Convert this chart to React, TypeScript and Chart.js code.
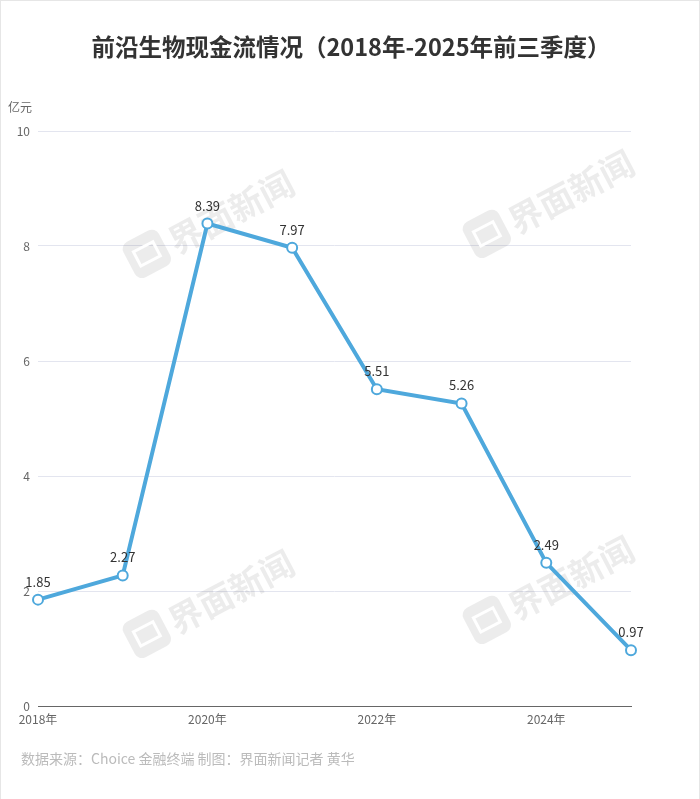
import React, { useEffect, useRef } from "react";
import { Chart, registerables } from "chart.js";

Chart.register(...registerables);

const TITLE = "前沿生物现金流情况（2018年-2025年前三季度）";
const UNIT = "亿元";
const SOURCE = "数据来源：Choice 金融终端 制图：界面新闻记者 黄华";
const WATERMARK = "界面新闻";

const categories = ["2018年", "2019年", "2020年", "2021年", "2022年", "2023年", "2024年", "2025年"];
const cashFlow = [1.85, 2.27, 8.39, 7.97, 5.51, 5.26, 2.49, 0.97];
const yTicks = [0, 2, 4, 6, 8, 10];

const FONT = "'Noto Sans CJK SC', 'Noto Sans', sans-serif";
const LINE_COLOR = "#4ea8dc";

const decorPlugin = {
  id: "decor",
  beforeDatasetsDraw(chart: any) {
    const ctx = chart.ctx as CanvasRenderingContext2D;
    const spots = [
      [200, 226],
      [540, 206],
      [200, 606],
      [540, 592],
    ];
    ctx.save();
    for (const [cx, cy] of spots) {
      ctx.save();
      ctx.translate(cx, cy);
      ctx.rotate(-Math.PI / 6.5);
      ctx.globalAlpha = 0.11;
      ctx.fillStyle = "#555";
      const bx = -80, by = -20, bw = 40, bh = 40, r = 8;
      ctx.beginPath();
      ctx.moveTo(bx + r, by);
      ctx.arcTo(bx + bw, by, bx + bw, by + bh, r);
      ctx.arcTo(bx + bw, by + bh, bx, by + bh, r);
      ctx.arcTo(bx, by + bh, bx, by, r);
      ctx.arcTo(bx, by, bx + bw, by, r);
      ctx.closePath();
      ctx.fill();
      ctx.globalAlpha = 1;
      ctx.strokeStyle = "rgba(255,255,255,1)";
      ctx.lineWidth = 3;
      ctx.strokeRect(bx + 9, by + 12, 22, 16);
      ctx.globalAlpha = 0.11;
      ctx.font = `bold 34px ${FONT}`;
      ctx.textAlign = "left";
      ctx.textBaseline = "middle";
      ctx.fillText(WATERMARK, -34, 2);
      ctx.restore();
    }
    ctx.restore();
  },
  afterDraw(chart: any) {
    const ctx = chart.ctx as CanvasRenderingContext2D;
    ctx.save();
    ctx.fillStyle = "#333";
    ctx.font = `bold 23.5px ${FONT}`;
    ctx.textAlign = "center";
    ctx.textBaseline = "middle";
    ctx.fillText(TITLE, 351, 47);

    ctx.fillStyle = "#666";
    ctx.font = `12px ${FONT}`;
    ctx.textAlign = "left";
    ctx.fillText(UNIT, 8, 107);

    ctx.fillStyle = "#bbb";
    ctx.font = `14px ${FONT}`;
    ctx.fillText(SOURCE, 21, 759);

    const meta = chart.getDatasetMeta(0);
    ctx.fillStyle = "#333";
    ctx.font = `13px ${FONT}`;
    ctx.textAlign = "center";
    meta.data.forEach((pt: any, i: number) => {
      ctx.fillText(cashFlow[i].toFixed(2), pt.x, pt.y - 18);
    });
    ctx.restore();
  },
};

export default function App() {
  const ref = useRef<HTMLCanvasElement | null>(null);
  useEffect(() => {
    if (!ref.current) return;
    const chart = new Chart(ref.current, {
      type: "line",
      data: {
        labels: categories,
        datasets: [
          {
            data: cashFlow,
            borderColor: LINE_COLOR,
            borderWidth: 4,
            pointRadius: 5,
            pointBorderWidth: 2,
            pointBackgroundColor: "#fff",
            pointBorderColor: LINE_COLOR,
            tension: 0,
          },
        ],
      },
      options: {
        animation: false,
        responsive: false,
        maintainAspectRatio: false,
        layout: { padding: { top: 131, left: 0, right: 69, bottom: 63 } },
        plugins: { legend: { display: false }, tooltip: { enabled: false }, title: { display: false } },
        scales: {
          x: {
            type: "category",
            offset: false,
            grid: { display: false, drawTicks: false },
            border: { display: true, color: "#666", width: 1 },
            ticks: {
              color: "#666",
              font: { family: FONT, size: 12 },
              autoSkip: false,
              maxRotation: 0,
              padding: 6,
              callback: (_v: any, i: number) => (i % 2 === 0 ? categories[i] : ""),
            },
            afterFit: (s: any) => {
              s.height = 30;
            },
          },
          y: {
            min: 0,
            max: 10,
            afterBuildTicks: (s: any) => {
              s.ticks = yTicks.map((v) => ({ value: v }));
            },
            grid: { color: "#e3e5ef", drawTicks: false, lineWidth: 1 },
            border: { display: false },
            ticks: {
              color: "#666",
              font: { family: FONT, size: 12 },
              padding: 8,
            },
            afterFit: (s: any) => {
              s.width = 38;
            },
          },
        },
      },
      plugins: [decorPlugin],
    } as any);
    return () => chart.destroy();
  }, []);
  return (
    <div
      style={{
        position: "fixed",
        left: 0,
        top: 0,
        width: 700,
        height: 799,
        boxSizing: "border-box",
        background: "#fff",
      }}
    >
      <canvas ref={ref} width={700} height={799} style={{ display: "block" }} />
      <div
        style={{
          position: "absolute",
          inset: 0,
          borderTop: "1px solid #e6e6e6",
          borderLeft: "1px solid #e6e6e6",
          borderRight: "1px solid #e6e6e6",
          pointerEvents: "none",
        }}
      />
    </div>
  );
}
